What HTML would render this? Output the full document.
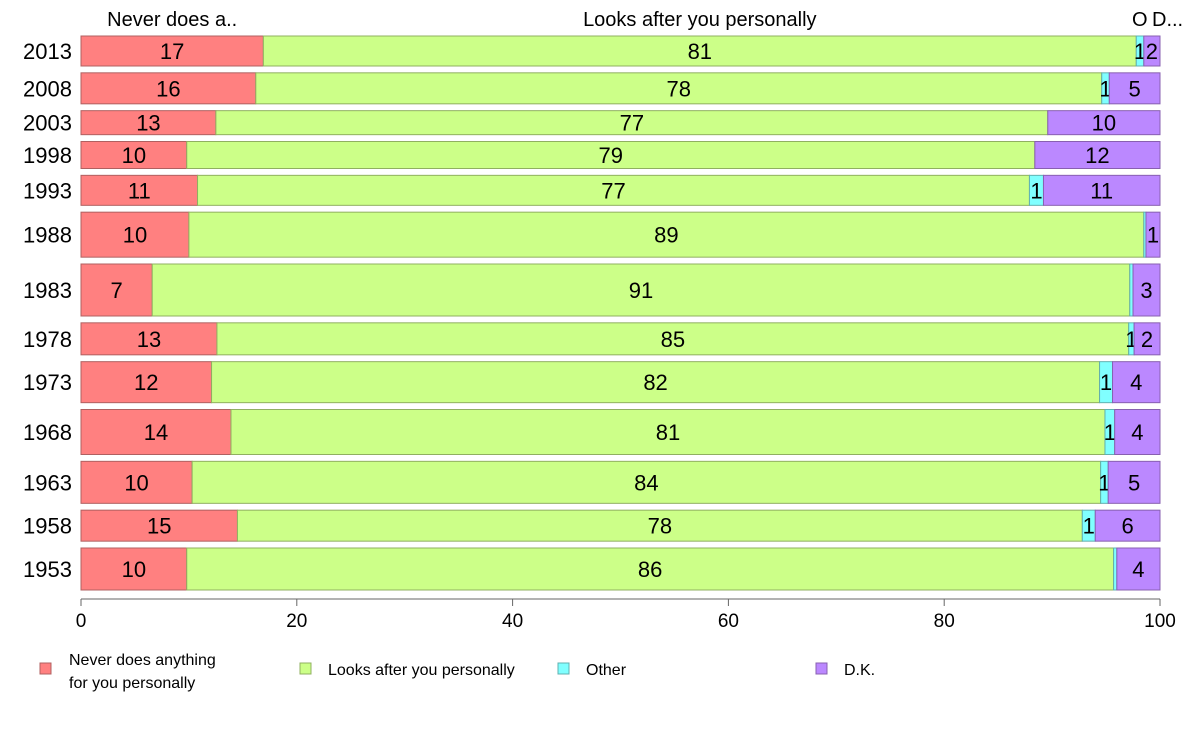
<!DOCTYPE html>
<html><head><meta charset="utf-8"><style>
body{margin:0;background:#fff;}
svg{display:block;font-family:"Liberation Sans",Arial,sans-serif;}
</style></head><body>
<svg id="chart" width="1188" height="736"></svg>
<script>
const years = ["2013","2008","2003","1998","1993","1988","1983","1978","1973","1968","1963","1958","1953"];
const neverVals = [16.9,16.2,12.5,9.8,10.8,10.0,6.6,12.6,12.1,13.9,10.3,14.5,9.8];
const looksVals = [80.9,78.4,77.1,78.6,77.1,88.5,90.6,84.5,82.3,81.0,84.2,78.3,85.9];
const otherVals = [0.7,0.7,0,0,1.3,0.2,0.3,0.5,1.2,0.9,0.7,1.2,0.3];
const dkVals = [1.5,4.7,10.4,11.6,10.8,1.3,2.5,2.4,4.4,4.2,4.8,6.0,4.0];
const barWeights = [30,31,24,27,30,45,52,32,41,45,42,31,42];
const seriesNames = ["Never does anything for you personally","Looks after you personally","Other","D.K."];
const topLabels = ["Never does a..","Looks after you personally","O","D..."];
const xTicks = [0,20,40,60,80,100];

const NS="http://www.w3.org/2000/svg";
const svg=document.getElementById("chart");
const colors=["#ff8080","#ccff88","#80ffff","#bb88ff"];
const strokes=["#b06060","#90b060","#60b0b0","#8860b0"];
const X0=81,X1=1160,Y0=36,Y1=590;
const xs=v=>X0+(X1-X0)*v/100;
function mk(tag,attrs,name,text){const e=document.createElementNS(NS,tag);for(const k in attrs)e.setAttribute(k,attrs[k]);


if(text!==undefined)e.textContent=text;svg.appendChild(e);return e;}
const totalW=barWeights.reduce((a,b)=>a+b,0);
const gap=((Y1-Y0)-totalW)/(years.length-1);
const series=[neverVals,looksVals,otherVals,dkVals];
let y=Y0;
const firstBarSegs=[];
years.forEach((yr,i)=>{
  const h=barWeights[i];
  let cum=0;
  series.forEach((s,k)=>{
    const v=s[i];
    const xa=xs(cum),xb=xs(cum+v);
    if(v>0){
      mk('rect',{x:xa,y:y,width:xb-xa,height:h,fill:colors[k],stroke:strokes[k],'stroke-width':1},'bar-'+yr+'-seg'+k);
      const r=Math.round(v);
      if(r>=1)mk('text',{x:(xa+xb)/2,y:y+h/2+8,'font-size':22,'text-anchor':'middle',fill:'#000'},'value-label-'+yr+'-seg'+k,String(r));
    }
    if(i===0)firstBarSegs.push((xa+xb)/2);
    cum+=v;
  });
  mk('text',{x:72,y:y+h/2+8,'font-size':22,'text-anchor':'end',fill:'#000'},'year-label-'+yr,yr);
  y+=h+gap;
});
// top category labels
const topX=[firstBarSegs[0],firstBarSegs[1],1132,1152];
topLabels.forEach((t,k)=>{
  mk('text',{x:topX[k],y:26,'font-size':20,'text-anchor':k>=2?'start':'middle',fill:'#000'},'top-category-label-'+k,t);
});
// x axis
mk('line',{x1:X0,y1:599,x2:X1,y2:599,stroke:'#666','stroke-width':1},'x-axis-line');
xTicks.forEach(t=>{
  mk('line',{x1:xs(t),y1:599,x2:xs(t),y2:606,stroke:'#666','stroke-width':1},'x-tick-'+t);
  mk('text',{x:xs(t),y:627,'font-size':19,'text-anchor':'middle',fill:'#000'},'x-tick-label-'+t,String(t));
});
// legend
const legX=[40,300,558,816];
seriesNames.forEach((n,k)=>{
  mk('rect',{x:legX[k],y:663,width:11,height:11,fill:colors[k],stroke:strokes[k]},'legend-swatch-'+k);
  if(k===0){
    mk('text',{x:69,y:665,'font-size':16,fill:'#000'},'legend-label-0-line1','Never does anything');
    mk('text',{x:69,y:688,'font-size':16,fill:'#000'},'legend-label-0-line2','for you personally');
  } else {
    mk('text',{x:legX[k]+28,y:675,'font-size':16,fill:'#000'},'legend-label-'+k,n);
  }
});
</script>
</body></html>
